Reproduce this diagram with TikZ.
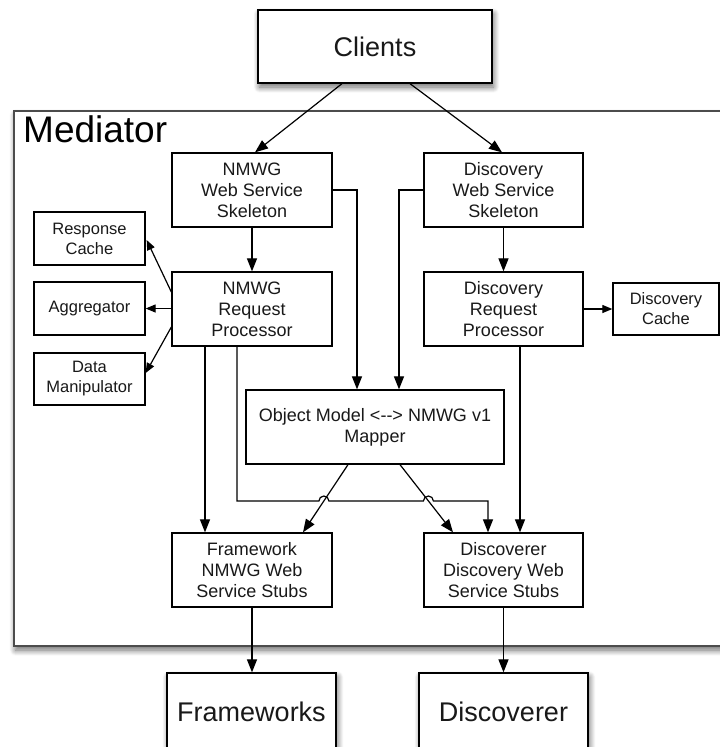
\documentclass[tikz,border=0pt]{standalone}
\usepackage{fontspec}
\setmainfont{Liberation Sans}
\usetikzlibrary{arrows.meta,calc,shadows.blur}

\begin{document}
\begin{tikzpicture}[x=1pt,y=-1pt,
  box/.style={draw=black, line width=1.3pt, fill=white, align=center,
    inner sep=0pt, text=black!90, font=\fontsize{18}{21}\selectfont},
  sbox/.style={box, font=\fontsize{16.5}{20}\selectfont},
  softshadow/.style={blur shadow={shadow xshift=1.5pt, shadow yshift=-4pt,
    shadow blur radius=6pt, shadow blur steps=12, shadow opacity=60}},
  bigbox/.style={box, softshadow, font=\fontsize{27}{30}\selectfont},
  frame/.style={draw=black!70, line width=2.2pt, fill=white, softshadow,
    inner sep=0pt},
  arr/.style={line width=1.2pt, -{Triangle[length=13pt,width=10pt]}},
  sarr/.style={line width=1.2pt, -{Triangle[length=10pt,width=8pt]}}
]
\useasboundingbox (0,0) rectangle (720,747);
\clip (0,0) rectangle (720,747);

% outer container
\node[frame, minimum width=746pt, minimum height=535pt] (mediator) at (387,378.5) {};
\node[anchor=base west, inner sep=0pt, font=\fontsize{37}{42}\selectfont] (medlabel) at (23,142) {Mediator};

% external systems
\node[bigbox, minimum width=234pt, minimum height=73pt] (clients) at (375,46.5) {Clients};
\node[bigbox, minimum width=169pt, minimum height=77pt] (fw) at (251.5,711.5) {Frameworks};
\node[bigbox, minimum width=169pt, minimum height=77pt] (disc) at (503.5,711.5) {Discoverer};

% NMWG side
\node[box, minimum width=160pt, minimum height=74pt] (nskel) at (252,190) {NMWG\\Web Service\\Skeleton};
\node[box, minimum width=160pt, minimum height=74pt] (nrp) at (252,309) {NMWG\\Request\\Processor};
\node[sbox, minimum width=111pt, minimum height=53pt] (rcache) at (89.5,238.5) {Response\\Cache};
\node[sbox, minimum width=111pt, minimum height=53pt] (aggr) at (89.5,308.5) {Aggregator};
\node[sbox, minimum width=111pt, minimum height=52pt] (dmanip) at (89.5,379) {Data\\Manipulator};

% Discovery side
\node[box, minimum width=159pt, minimum height=74pt] (dskel) at (503.5,190) {Discovery\\Web Service\\Skeleton};
\node[box, minimum width=159pt, minimum height=74pt] (drp) at (503.5,309) {Discovery\\Request\\Processor};
\node[sbox, minimum width=106pt, minimum height=52pt] (dcache) at (666,309) {Discovery\\Cache};

% shared mapper and stubs
\node[box, minimum width=258pt, minimum height=74pt] (mapper) at (375,427) {Object Model <-{}-> NMWG v1\\Mapper};
\node[box, minimum width=160pt, minimum height=74pt] (fstub) at (252,570) {Framework\\NMWG Web\\Service Stubs};
\node[box, minimum width=159pt, minimum height=74pt] (dstub) at (503.5,570) {Discoverer\\Discovery Web\\Service Stubs};

% connectors
\draw[arr] ($(clients.south)+(-33,0)$) -- ($(nskel.north)+(3,0)$);
\draw[arr] ($(clients.south)+(35,0)$) -- ($(dskel.north)+(-1.5,0)$);

\draw[arr] (nskel.south) -- (nrp.north);
\draw[arr] (dskel.south) -- (drp.north);
\draw[sarr] (drp.east) -- (dcache.west);

\draw[arr] (nskel.east) -| ($(mapper.north)+(-18,0)$);
\draw[arr] (dskel.west) -| ($(mapper.north)+(24,0)$);

\draw[sarr] ($(nrp.west)+(0,-17)$) -- ($(rcache.east)+(1,1.5)$);
\draw[sarr] (aggr.east -| nrp.west) -- (aggr.east);
\draw[sarr] ($(nrp.west)+(0,18)$) -- ($(dmanip.east)+(0,-6)$);

\draw[arr] ($(nrp.south)+(-47,0)$) -- ($(fstub.north)+(-47,0)$);
\draw[arr] ($(mapper.south)+(-27,0)$) -- ($(fstub.north)+(51,0)$);
\draw[arr] ($(mapper.south)+(25,0)$) -- ($(dstub.north)+(-50.5,0)$);
\draw[arr] ($(drp.south)+(16.5,0)$) -- ($(dstub.north)+(16.5,0)$);

% request processor to discoverer stubs, hopping over the mapper links
\draw[arr] ($(nrp.south)+(-15,0)$) -- (237,501) -- (318.9,501)
  arc[start angle=180, end angle=360, radius=5] -- (423.4,501)
  arc[start angle=180, end angle=360, radius=5] -- (488,501)
  -- ($(dstub.north)+(-15.5,0)$);

\draw[arr] (fstub.south) -- (fstub.south |- fw.north);
\draw[arr] (dstub.south) -- (disc.north);
\end{tikzpicture}
\end{document}
